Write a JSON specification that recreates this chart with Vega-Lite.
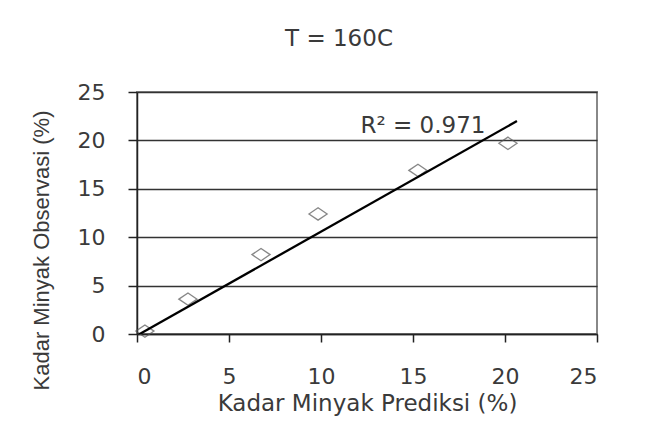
{
  "$schema": "https://vega.github.io/schema/vega-lite/v6.json",
  "width": 460,
  "height": 242,
  "autosize": {"type": "none"},
  "padding": {"left": 137, "top": 92, "right": 52, "bottom": 100},
  "background": "white",
  "title": {"text": "T = 160C", "font": "DejaVu Sans", "fontSize": 23, "fontWeight": "normal", "color": "#3a3a3a", "offset": 30, "anchor": "middle", "dx": -28},
  "config": {
    "view": {"stroke": "#888", "strokeWidth": 2},
    "axis": {"labelFont": "DejaVu Sans", "titleFont": "DejaVu Sans", "labelFontSize": 22, "titleFontSize": 23, "titleFontWeight": "normal", "labelColor": "#3a3a3a", "titleColor": "#3a3a3a", "domainColor": "#222", "tickColor": "#222", "domainWidth": 1.5, "tickWidth": 1.5}
  },
  "datasets": {
    "obs": [
      {"pred": 0.43, "obs": 0.3},
      {"pred": 2.77, "obs": 3.6},
      {"pred": 6.74, "obs": 8.2},
      {"pred": 9.84, "obs": 12.4},
      {"pred": 15.27, "obs": 16.9},
      {"pred": 20.16, "obs": 19.7}
    ],
    "trend": [
      {"pred": 0.1, "obs": -0.05},
      {"pred": 20.65, "obs": 22.0}
    ],
    "label": [
      {"pred": 15.54, "obs": 20.76, "text": "R² = 0.971"}
    ]
  },
  "layer": [
    {
      "data": {"name": "obs"},
      "mark": {"type": "point", "shape": "M-1,0L0,-0.68L1,0L0,0.68Z", "size": 330, "filled": false, "stroke": "#555", "strokeWidth": 1.3},
      "encoding": {
        "x": {"field": "pred", "type": "quantitative", "scale": {"domain": [0, 25], "nice": false}, "axis": {"values": [0, 5, 10, 15, 20, 25], "grid": false, "tickSize": 8, "labelPadding": 24, "title": "Kadar Minyak Prediksi (%)", "titlePadding": 5}},
        "y": {"field": "obs", "type": "quantitative", "scale": {"domain": [0, 25], "nice": false}, "axis": {"values": [0, 5, 10, 15, 20, 25], "grid": true, "gridColor": "#333", "gridWidth": 1.3, "gridOpacity": 1, "tickSize": 9, "labelPadding": 23, "title": "Kadar Minyak Observasi (%)", "titleFont": "Liberation Sans", "titleFontSize": 22, "titlePadding": 24, "titleY": 158}}
      }
    },
    {
      "data": {"name": "trend"},
      "mark": {"type": "line", "color": "black", "strokeWidth": 2.3, "clip": true},
      "encoding": {
        "x": {"field": "pred", "type": "quantitative"},
        "y": {"field": "obs", "type": "quantitative"}
      }
    },
    {
      "data": {"name": "label"},
      "mark": {"type": "text", "font": "DejaVu Sans", "fontSize": 23, "color": "#3a3a3a", "baseline": "alphabetic"},
      "encoding": {
        "x": {"field": "pred", "type": "quantitative"},
        "y": {"field": "obs", "type": "quantitative"},
        "text": {"field": "text"}
      }
    }
  ]
}
